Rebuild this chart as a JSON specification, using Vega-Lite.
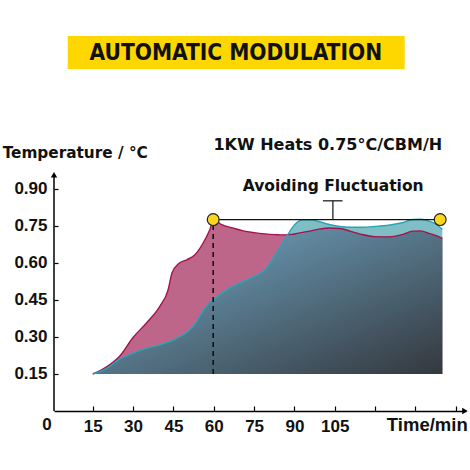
{
  "$schema": "https://vega.github.io/schema/vega-lite/v6.json",
  "autosize": "none",
  "width": 412,
  "height": 411,
  "padding": {"left": 54, "top": 0, "right": 4, "bottom": 59},
  "background": "white",
  "datasets": {
    "temps": [
      {"t": 15, "series": "pink", "temp": 0.15}, {"t": 15, "series": "teal", "temp": 0.15},
      {"t": 20, "series": "pink", "temp": 0.178}, {"t": 20, "series": "teal", "temp": 0.172},
      {"t": 25, "series": "pink", "temp": 0.222}, {"t": 25, "series": "teal", "temp": 0.21},
      {"t": 30, "series": "pink", "temp": 0.298}, {"t": 30, "series": "teal", "temp": 0.235},
      {"t": 35, "series": "pink", "temp": 0.357}, {"t": 35, "series": "teal", "temp": 0.254},
      {"t": 40, "series": "pink", "temp": 0.425}, {"t": 40, "series": "teal", "temp": 0.268},
      {"t": 43, "series": "pink", "temp": 0.49}, {"t": 43, "series": "teal", "temp": 0.279},
      {"t": 44.5, "series": "pink", "temp": 0.56}, {"t": 44.5, "series": "teal", "temp": 0.285},
      {"t": 47, "series": "pink", "temp": 0.598}, {"t": 47, "series": "teal", "temp": 0.3},
      {"t": 50, "series": "pink", "temp": 0.613}, {"t": 50, "series": "teal", "temp": 0.318},
      {"t": 53, "series": "pink", "temp": 0.633}, {"t": 53, "series": "teal", "temp": 0.352},
      {"t": 56, "series": "pink", "temp": 0.68}, {"t": 56, "series": "teal", "temp": 0.405},
      {"t": 58.5, "series": "pink", "temp": 0.734}, {"t": 58.5, "series": "teal", "temp": 0.44},
      {"t": 60, "series": "pink", "temp": 0.775}, {"t": 60, "series": "teal", "temp": 0.452},
      {"t": 63, "series": "pink", "temp": 0.755}, {"t": 63, "series": "teal", "temp": 0.478},
      {"t": 67, "series": "pink", "temp": 0.742}, {"t": 67, "series": "teal", "temp": 0.505},
      {"t": 71, "series": "pink", "temp": 0.73}, {"t": 71, "series": "teal", "temp": 0.525},
      {"t": 75, "series": "pink", "temp": 0.723}, {"t": 75, "series": "teal", "temp": 0.545},
      {"t": 79, "series": "pink", "temp": 0.718}, {"t": 79, "series": "teal", "temp": 0.572},
      {"t": 83, "series": "pink", "temp": 0.715}, {"t": 83, "series": "teal", "temp": 0.635},
      {"t": 85, "series": "pink", "temp": 0.714}, {"t": 85, "series": "teal", "temp": 0.67},
      {"t": 87, "series": "pink", "temp": 0.714}, {"t": 87, "series": "teal", "temp": 0.705},
      {"t": 89, "series": "pink", "temp": 0.716}, {"t": 89, "series": "teal", "temp": 0.74},
      {"t": 91, "series": "pink", "temp": 0.72}, {"t": 91, "series": "teal", "temp": 0.765},
      {"t": 93, "series": "pink", "temp": 0.724}, {"t": 93, "series": "teal", "temp": 0.775},
      {"t": 96, "series": "pink", "temp": 0.73}, {"t": 96, "series": "teal", "temp": 0.775},
      {"t": 99, "series": "pink", "temp": 0.737}, {"t": 99, "series": "teal", "temp": 0.768},
      {"t": 103, "series": "pink", "temp": 0.742}, {"t": 103, "series": "teal", "temp": 0.756},
      {"t": 107, "series": "pink", "temp": 0.74}, {"t": 107, "series": "teal", "temp": 0.748},
      {"t": 111, "series": "pink", "temp": 0.728}, {"t": 111, "series": "teal", "temp": 0.745},
      {"t": 115, "series": "pink", "temp": 0.716}, {"t": 115, "series": "teal", "temp": 0.745},
      {"t": 120, "series": "pink", "temp": 0.707}, {"t": 120, "series": "teal", "temp": 0.748},
      {"t": 125, "series": "pink", "temp": 0.706}, {"t": 125, "series": "teal", "temp": 0.753},
      {"t": 130, "series": "pink", "temp": 0.715}, {"t": 130, "series": "teal", "temp": 0.763},
      {"t": 134, "series": "pink", "temp": 0.729}, {"t": 134, "series": "teal", "temp": 0.776},
      {"t": 137, "series": "pink", "temp": 0.73}, {"t": 137, "series": "teal", "temp": 0.777},
      {"t": 140, "series": "pink", "temp": 0.72}, {"t": 140, "series": "teal", "temp": 0.77},
      {"t": 143, "series": "pink", "temp": 0.71}, {"t": 143, "series": "teal", "temp": 0.755},
      {"t": 145, "series": "pink", "temp": 0.70}, {"t": 145, "series": "teal", "temp": 0.736}
    ]
  },
  "data": {"name": "temps"},
  "layer": [
    {
      "data": {"values": [{}]},
      "mark": {"type": "rect", "color": "#fed700"},
      "encoding": {
        "x": {"datum": 5.7, "type": "quantitative", "scale": {"domain": [0.6, 153.8], "nice": false, "zero": false},
          "axis": {
            "values": [15, 30, 45, 60, 75, 90, 105, 120, 135, 150],
            "labelExpr": "datum.value > 105 ? '' : datum.label",
            "title": null, "grid": false,
            "domainColor": "black", "domainWidth": 1.5,
            "tickColor": "black", "tickSize": -5, "tickWidth": 1.2,
            "labelPadding": 12, "labelFont": "Liberation Sans", "labelFontSize": 17,
            "labelFontWeight": "bold", "labelColor": "#111", "labelFlush": false
          }
        },
        "x2": {"datum": 131},
        "y": {"datum": 1.52, "type": "quantitative", "scale": {"domain": [0, 1.666], "nice": false, "zero": false},
          "axis": {
            "values": [0.15, 0.3, 0.45, 0.6, 0.75, 0.9],
            "format": ".2f", "title": null, "grid": false, "domain": false,
            "tickColor": "black", "tickSize": -4, "tickWidth": 1.2,
            "labelPadding": 11, "labelFont": "Liberation Sans", "labelFontSize": 17,
            "labelFontWeight": "bold", "labelColor": "#111"
          }
        },
        "y2": {"datum": 1.386}
      }
    },
    {
      "data": {"values": [{}]},
      "mark": {"type": "text", "text": "AUTOMATIC MODULATION", "font": "DejaVu Sans Condensed",
        "fontWeight": "bold", "fontSize": 22.5, "color": "#111", "align": "center", "baseline": "middle"},
      "encoding": {"x": {"datum": 68.2}, "y": {"datum": 1.452}}
    },
    {
      "transform": [{"filter": "datum.series == 'teal'"}],
      "mark": {"type": "area", "interpolate": "monotone", "color": "#80bec5"},
      "encoding": {
        "x": {"field": "t", "type": "quantitative"},
        "y": {"field": "temp", "type": "quantitative"},
        "y2": {"datum": 0.15}
      }
    },
    {
      "transform": [{"filter": "datum.series == 'pink'"}],
      "mark": {"type": "area", "interpolate": "monotone", "color": "#bd6689", "opacity": 1},
      "encoding": {
        "x": {"field": "t", "type": "quantitative"},
        "y": {"field": "temp", "type": "quantitative"},
        "y2": {"datum": 0.15}
      }
    },
    {
      "transform": [{"aggregate": [{"op": "min", "field": "temp", "as": "lower"}], "groupby": ["t"]}],
      "mark": {
        "type": "area", "interpolate": "monotone",
        "color": {
          "gradient": "linear", "x1": 0, "y1": 0, "x2": 1, "y2": 1,
          "stops": [
            {"offset": 0, "color": "#78b0cc"},
            {"offset": 0.45, "color": "#587a8e"},
            {"offset": 1, "color": "#34383e"}
          ]
        }
      },
      "encoding": {
        "x": {"field": "t", "type": "quantitative"},
        "y": {"field": "lower", "type": "quantitative"},
        "y2": {"datum": 0.15}
      }
    },
    {
      "transform": [{"filter": "datum.series == 'pink'"}],
      "mark": {"type": "line", "interpolate": "monotone", "color": "#a3124f", "strokeWidth": 1.4},
      "encoding": {
        "x": {"field": "t", "type": "quantitative"},
        "y": {"field": "temp", "type": "quantitative"}
      }
    },
    {
      "transform": [{"filter": "datum.series == 'teal'"}],
      "mark": {"type": "line", "interpolate": "monotone", "color": "#27a5b7", "strokeWidth": 1.4},
      "encoding": {
        "x": {"field": "t", "type": "quantitative"},
        "y": {"field": "temp", "type": "quantitative"}
      }
    },
    {
      "data": {"values": [{}]},
      "mark": {"type": "rule", "color": "#111", "strokeWidth": 1.6, "strokeDash": [5, 4]},
      "encoding": {"x": {"datum": 59.8}, "y": {"datum": 0.15}, "y2": {"datum": 0.776}}
    },
    {
      "data": {"values": [{}]},
      "mark": {"type": "rule", "color": "#111", "strokeWidth": 1.3},
      "encoding": {"x": {"datum": 59.8}, "x2": {"datum": 144.2}, "y": {"datum": 0.776}}
    },
    {
      "data": {"values": [{}]},
      "mark": {"type": "rule", "color": "#222", "strokeWidth": 1.3},
      "encoding": {"x": {"datum": 104.3}, "y": {"datum": 0.776}, "y2": {"datum": 0.852}}
    },
    {
      "data": {"values": [{}]},
      "mark": {"type": "rule", "color": "#222", "strokeWidth": 1.3},
      "encoding": {"x": {"datum": 100.6}, "x2": {"datum": 107.9}, "y": {"datum": 0.852}}
    },
    {
      "data": {"values": [{}]},
      "mark": {"type": "point", "filled": true, "size": 140, "color": "#fad61c", "stroke": "#222", "strokeWidth": 1.2, "opacity": 1},
      "encoding": {"x": {"datum": 59.8}, "y": {"datum": 0.776}}
    },
    {
      "data": {"values": [{}]},
      "mark": {"type": "point", "filled": true, "size": 140, "color": "#fad61c", "stroke": "#222", "strokeWidth": 1.2, "opacity": 1},
      "encoding": {"x": {"datum": 144.2}, "y": {"datum": 0.776}}
    },
    {
      "data": {"values": [{}]},
      "mark": {"type": "rule", "color": "black", "strokeWidth": 1.5},
      "encoding": {"x": {"datum": 0.6}, "y": {"datum": 0}, "y2": {"datum": 0.955}}
    },
    {
      "data": {"values": [{}]},
      "mark": {"type": "point", "shape": "triangle-up", "filled": true, "size": 40, "color": "black", "opacity": 1},
      "encoding": {"x": {"datum": 0.6}, "y": {"datum": 0.958}}
    },
    {
      "data": {"values": [{}]},
      "mark": {"type": "point", "shape": "triangle-right", "filled": true, "size": 40, "color": "black", "opacity": 1},
      "encoding": {"x": {"datum": 153.4}, "y": {"datum": 0}}
    },
    {
      "data": {"values": [{}]},
      "mark": {"type": "text", "text": "1KW Heats 0.75°C/CBM/H", "font": "DejaVu Sans", "fontWeight": "bold",
        "fontSize": 16, "color": "#111", "align": "center", "baseline": "middle"},
      "encoding": {"x": {"datum": 102.4}, "y": {"datum": 1.078}}
    },
    {
      "data": {"values": [{}]},
      "mark": {"type": "text", "text": "Avoiding Fluctuation", "font": "DejaVu Sans", "fontWeight": "bold",
        "fontSize": 15.5, "color": "#111", "align": "center", "baseline": "middle"},
      "encoding": {"x": {"datum": 104.4}, "y": {"datum": 0.912}}
    },
    {
      "data": {"values": [{}]},
      "mark": {"type": "text", "text": "Temperature / °C", "font": "DejaVu Sans", "fontWeight": "bold",
        "fontSize": 15.3, "color": "#111", "align": "left", "baseline": "middle"},
      "encoding": {"x": {"datum": -18.5}, "y": {"datum": 1.046}}
    },
    {
      "data": {"values": [{}]},
      "mark": {"type": "text", "text": "0", "font": "Liberation Sans", "fontWeight": "bold",
        "fontSize": 17, "color": "#111", "align": "center", "baseline": "middle"},
      "encoding": {"x": {"datum": -2}, "y": {"datum": -0.057}}
    },
    {
      "data": {"values": [{}]},
      "mark": {"type": "text", "text": "Time/min", "font": "Liberation Sans", "fontWeight": "bold",
        "fontSize": 18.5, "color": "#111", "align": "center", "baseline": "middle"},
      "encoding": {"x": {"datum": 139.4}, "y": {"datum": -0.057}}
    }
  ],
  "config": {"view": {"stroke": null}}
}
